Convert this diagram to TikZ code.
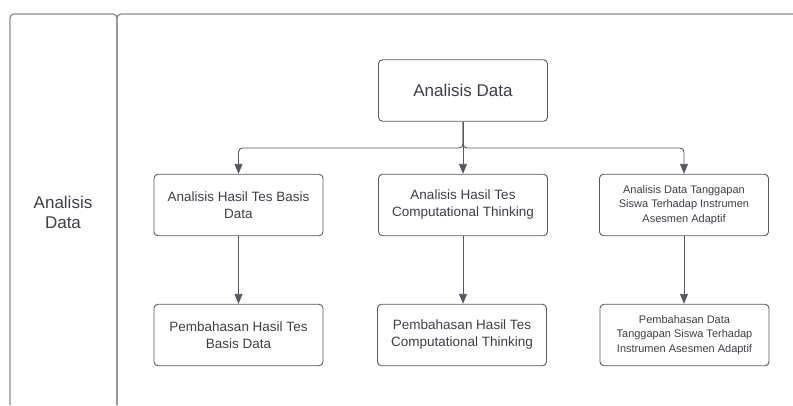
\documentclass[tikz,border=0pt]{standalone}
\usepackage{fontspec}
\setmainfont{Liberation Sans}
\usepackage{tikz}
\usetikzlibrary{positioning,arrows.meta}
\usepackage{xcolor}
\definecolor{lanegray}{HTML}{8A8C90}
\definecolor{boxgray}{HTML}{55585E}
\definecolor{txtgray}{HTML}{3C3F45}

\tikzset{
  lane/.style={draw=lanegray, line width=1.3pt, rounded corners=4pt},
  box/.style={draw=boxgray, line width=0.9pt, rounded corners=4pt, minimum width=169pt,
    minimum height=61.5pt, inner sep=0pt, align=center, text=txtgray},
  arr/.style={draw=boxgray, line width=0.9pt, rounded corners=4pt,
    -{Triangle[length=10pt,width=8pt]}}
}

\begin{document}
\begin{tikzpicture}[x=1pt,y=-1pt]
		\useasboundingbox (0,0) rectangle (793,405);
		% swimlane
		\draw[lane] (10,405) -- (10,14) -- (117,14) -- (117,405);
		\draw[lane] (117,405) -- (117,14) -- (810,14);
		\node[text=txtgray, align=center, font=\fontsize{17}{20}\selectfont] (lanelbl) at (63,212) {Analisis\\Data};
		
		% boxes
		\node[box, font=\fontsize{17}{20}\selectfont] (top) at (463,90.5) {Analisis Data};
		\node[box, font=\fontsize{13.5}{17}\selectfont] (a1) at (238.5,205) {Analisis Hasil Tes Basis\\Data};
		\node[box, font=\fontsize{13.5}{17}\selectfont] (a2) at (463,205) {Analisis Hasil Tes\\Computational Thinking};
		\node[box, font=\fontsize{11}{14.5}\selectfont] (a3) at (684,205) {Analisis Data Tanggapan\\Siswa Terhadap Instrumen\\Asesmen Adaptif};
		\node[box, font=\fontsize{13.5}{17}\selectfont] (b1) at (238.5,335) {Pembahasan Hasil Tes\\Basis Data};
		\node[box, font=\fontsize{13.5}{17}\selectfont] (b2) at (462,335) {Pembahasan Hasil Tes\\Computational Thinking};
		\node[box, font=\fontsize{11}{14.3}\selectfont] (b3) at (684.5,335) {Pembahasan Data\\Tanggapan Siswa Terhadap\\Instrumen Asesmen Adaptif};
		
		\coordinate (split) at (463,148);
		
		% connectors
		\draw[arr] (top.south) -- (split) -| (a1.north);
		\draw[arr] (top.south) -- (a2.north);
		\draw[arr] (top.south) -- (split) -| (a3.north);
		\draw[arr] (a1.south) -- (b1.north);
		\draw[arr] (a2.south) -- (a2.south |- b2.north);
		\draw[arr] (a3.south) -- (a3.south |- b3.north);
		\end{tikzpicture}
\end{document}
